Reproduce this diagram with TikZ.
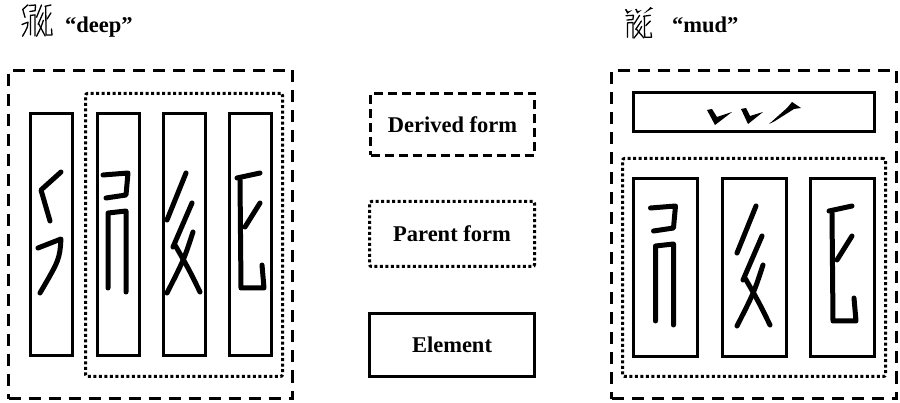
\documentclass[tikz,border=0pt]{standalone}
\usepackage{fontspec}
\setmainfont{Liberation Serif}
\begin{document}
\begin{tikzpicture}[x=1pt,y=-1pt]

    \tikzset{
      brush/.style={line width=5pt, line cap=round, line join=round},
      element/.style={draw, line width=3pt, inner sep=0pt},
      derived/.style={draw, line width=3pt, dash pattern=on 12pt off 8pt, inner sep=0pt},
      parent/.style={draw, line width=3pt, dash pattern=on 3pt off 2.5pt, rounded corners=2pt, inner sep=0pt},
      label/.style={font=\fontsize{22.5}{27}\selectfont\bfseries, inner sep=0pt},
      partone/.pic={
        \draw[brush] (9.5,-62.5) -- (-10.5,-44.5) -- (-1.5,-13.5);
        \draw[brush] (-13.5,13.5) -- (9.5,4.5) .. controls (8,25) .. (-11.5,58.5);
      },
      parttwo/.pic={
        \draw[brush] (-15,-59.5) -- (10,-61.5) -- (8,-39.5) -- (-12,-36.5);
        \draw[brush] (-10,53.5) -- (-10,-21.5) -- (8,-23.5) -- (8,57.5);
      },
      partthree/.pic={
        \draw[brush] (2,-61.5) -- (-17,-14.5);
        \draw[brush] (8,-31.5) -- (-11,12.5);
        \draw[brush] (9,-2.5) .. controls (0,25) .. (-17,58.5);
        \draw[brush] (-9,10.5) .. controls (5,35) .. (16,57.5);
      },
      partfour/.pic={
        \draw[brush] (-13.5,-56.5) -- (9.5,-61.5);
        \draw[brush] (-10.5,-54.5) -- (-9.5,53.5) -- (13.5,53.5) -- (11.5,30.5);
        \draw[brush] (9.5,-31.5) -- (-5.5,-7.5);
      },
      parttop/.pic={
        \fill (-47,-2) -- (-42,-3) -- (-37,5) -- (-22,0) -- (-39,13) -- cycle;
        \fill (-13,-3) -- (-8,-4) -- (-4,4) -- (9,0) -- (-6,12) -- cycle;
        \fill (15,12) -- (33,-4) -- (38,-10) -- (47,-4) -- (40,-3) -- (21,9) -- cycle;
      },
    }
    \useasboundingbox (0,0) rectangle (900,403);

    % titles
    \begin{scope}[brush/.style={line width=1.3pt, line cap=round, line join=round}]
      \pic[scale=0.26] at (25.5,21) {partone};
      \pic[scale=0.26] at (33,21) {parttwo};
      \pic[scale=0.26] at (41,21) {partthree};
      \pic[scale=0.26] at (48.5,21) {partfour};
      \pic[scale=0.3] at (639,10) {parttop};
      \pic[xscale=0.3,yscale=0.19] at (630.5,27) {parttwo};
      \pic[xscale=0.3,yscale=0.19] at (639,27) {partthree};
      \pic[xscale=0.3,yscale=0.19] at (647.5,27) {partfour};
    \end{scope}
    \node[label, anchor=base west] (deep) at (65,33) {“deep”};
    \node[label, anchor=base west] (mud) at (672,33) {“mud”};

    % left: deep
    \node[derived, minimum width=284pt, minimum height=328pt] (deepform) at (150.5,234.5) {};
    \node[parent, minimum width=197pt, minimum height=283pt] (deepparent) at (184,235) {};
    \node[element, minimum width=42pt, minimum height=242pt] (d1) at (51.5,234.5) {};
    \node[element, minimum width=42pt, minimum height=242pt] (d2) at (118,234.5) {};
    \node[element, minimum width=42pt, minimum height=242pt] (d3) at (184,234.5) {};
    \node[element, minimum width=42pt, minimum height=242pt] (d4) at (250.5,234.5) {};
    \pic at (d1) {partone};
    \pic at (d2) {parttwo};
    \pic at (d3) {partthree};
    \pic at (d4) {partfour};

    % legend
    \node[derived, dash pattern=on 9pt off 5pt, minimum width=164pt, minimum height=62pt, label] (lderived) at (452.5,124.5) {Derived form};
    \node[parent, minimum width=165pt, minimum height=65pt, label] (lparent) at (452,234) {Parent form};
    \node[element, minimum width=165pt, minimum height=63pt, label] (lelement) at (452,345) {Element};

    % right: mud
    \node[derived, minimum width=285pt, minimum height=328pt] (mudform) at (754,234.5) {};
    \node[parent, minimum width=263pt, minimum height=218pt] (mudparent) at (754,267.5) {};
    \node[element, minimum width=241pt, minimum height=39pt] (m0) at (754,112) {};
    \node[element, minimum width=64pt, minimum height=178pt] (m1) at (665.5,267.5) {};
    \node[element, minimum width=64pt, minimum height=178pt] (m2) at (754,267.5) {};
    \node[element, minimum width=64pt, minimum height=178pt] (m3) at (842.5,267.5) {};
    \pic at (m0) {parttop};
    \pic at (m1) {parttwo};
    \pic at (m2) {partthree};
    \pic at (m3) {partfour};

\end{tikzpicture}
\end{document}
